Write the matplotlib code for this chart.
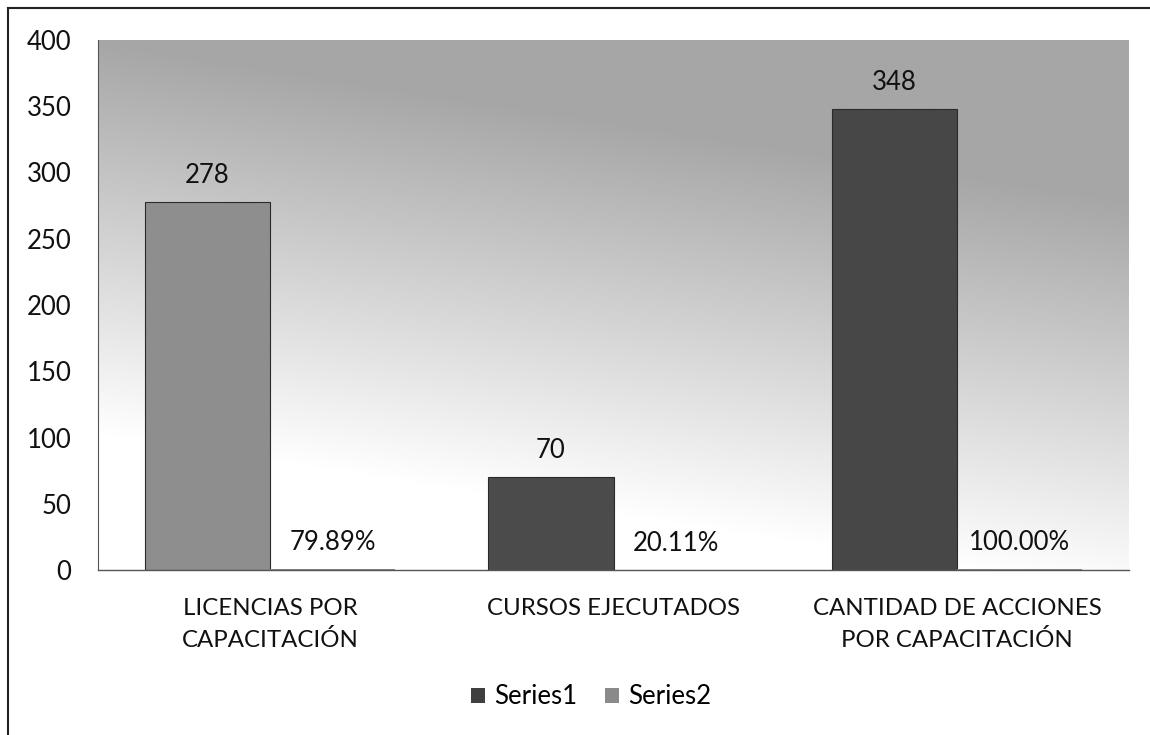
import numpy as np
import matplotlib
matplotlib.use("Agg")
import matplotlib.pyplot as plt
from matplotlib.patches import Patch
from matplotlib.lines import Line2D

plt.rcParams["font.family"] = ["Lato", "DejaVu Sans"]

# datos del gráfico
categorias = ["LICENCIAS POR\nCAPACITACIÓN", "CURSOS EJECUTADOS",
              "CANTIDAD DE ACCIONES\nPOR CAPACITACIÓN"]
series1 = [278, 70, 348]
series2 = [0.7989, 0.2011, 1.0]
nombres = ["Series1", "Series2"]

col_s1 = ["#8e8e8e", "#4b4b4b", "#474747"]
col_leyenda = ["#3f3f3f", "#8a8a8a"]

fig = plt.figure(figsize=(11.5, 7.35), dpi=100)
ax = fig.add_axes([98 / 1150, 1 - 570 / 735, 1031 / 1150, 530 / 735])

# fondo degradado del área de trazado (oscuro arriba, claro abajo a la izquierda)
ny, nx = 200, 300
t = np.linspace(0, 1, ny)[:, None]
u = np.linspace(0, 1, nx)[None, :]
s = t - 0.3 * u
fondo = 0.65 + 0.35 * np.clip(s / 0.75, 0, 1)
ax.imshow(fondo, cmap="gray", vmin=0, vmax=1, aspect="auto", origin="upper",
          extent=(-0.5, 2.5, 0, 400), zorder=0, interpolation="bilinear")

x = np.arange(len(categorias))
ancho = 0.364
b1 = ax.bar(x - ancho / 2, series1, ancho, color=col_s1,
            edgecolor="#2a2a2a", linewidth=0.8, zorder=2)
b2 = ax.bar(x + ancho / 2, series2, ancho, color=col_leyenda[1],
            linewidth=0, zorder=2)

# etiquetas de datos
for rect, v in zip(b1, series1):
    ax.annotate(f"{v:.0f}", (rect.get_x() + rect.get_width() / 2, v),
                xytext=(0, 13.5), textcoords="offset points",
                ha="center", va="baseline", fontsize=18.5, color="#111111")
for rect, v in zip(b2, series2):
    ax.annotate(f"{v:.2%}", (rect.get_x() + rect.get_width() / 2, v),
                xytext=(0, 13.5), textcoords="offset points",
                ha="center", va="baseline", fontsize=18.5, color="#111111")

ax.set_xlim(-0.5, 2.5)
ax.set_ylim(0, 400)
ax.set_yticks(np.arange(0, 401, 50))
ax.set_xticks(x)
ax.set_xticklabels(categorias, linespacing=1.55)
ax.tick_params(axis="y", length=0, pad=19, labelsize=18.5, labelcolor="#111111")
ax.tick_params(axis="x", length=0, pad=20, labelsize=17.3, labelcolor="#111111")

for lado in ["top", "right"]:
    ax.spines[lado].set_visible(False)
ax.spines["left"].set_color("#555555")
ax.spines["left"].set_linewidth(0.8)
ax.spines["bottom"].set_color("#555555")
ax.spines["bottom"].set_linewidth(1.0)

# leyenda inferior
manejadores = [Patch(facecolor=c, edgecolor="none") for c in col_leyenda]
fig.legend(manejadores, nombres, loc="center", ncol=2, frameon=False,
           bbox_to_anchor=(591 / 1150, 1 - 697 / 735), fontsize=18.5,
           handlelength=0.55, handleheight=0.55, handletextpad=0.35,
           columnspacing=1.1)

# marco exterior del gráfico
fig.add_artist(Line2D([8 / 1150, 8 / 1150], [0, 1 - 8 / 735],
                      transform=fig.transFigure, color="#222222", lw=1.5))
fig.add_artist(Line2D([8 / 1150, 1], [1 - 8 / 735, 1 - 8 / 735],
                      transform=fig.transFigure, color="#222222", lw=1.5))

fig.savefig("out.png", dpi=100)
